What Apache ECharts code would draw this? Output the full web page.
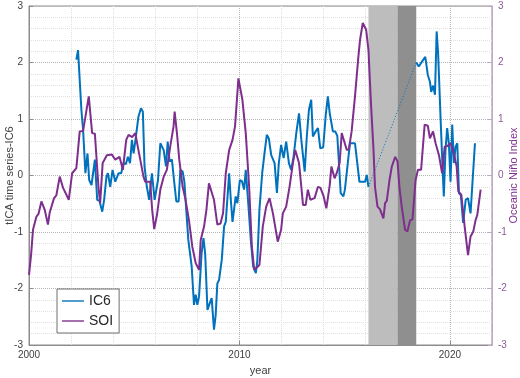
<!DOCTYPE html>
<html>
<head>
<meta charset="utf-8">
<script src="https://cdn.jsdelivr.net/npm/echarts@6/dist/echarts.min.js"></script>
<style>
    html, body { margin: 0; padding: 0; background: #fff; }
    #chart { width: 520px; height: 378px; }
</style>
</head>
<body>
<div id="chart"></div>
<script>
// SOI (Oceanic Nino Index), [year, value]
const soiData = [
    [2000.0,-1.76],[2000.1,-1.4],[2000.19,-0.96],[2000.35,-0.73],[2000.45,-0.68],[2000.59,-0.46],
    [2000.75,-0.61],[2000.9,-0.87],[2000.98,-0.66],[2001.19,-0.40],[2001.3,-0.35],[2001.46,-0.02],
    [2001.62,-0.22],[2001.7,-0.20],[2001.89,-0.43],[2002.05,0.04],[2002.25,0.13],[2002.41,0.78],
    [2002.57,0.79],[2002.84,1.40],[2003.0,0.75],[2003.13,0.74],[2003.3,-0.2],[2003.38,-0.49],
    [2003.5,0.22],[2003.7,0.36],[2003.94,0.37],[2004.1,0.28],[2004.3,0.33],[2004.46,0.1],
    [2004.62,0.63],[2004.73,0.72],[2004.9,0.68],[2005.05,0.75],[2005.2,0.45],[2005.44,-0.02],
    [2005.52,-0.11],[2005.76,-0.11],[2005.85,-0.6],[2005.95,-0.95],[2006.08,-0.70],[2006.14,-0.7],
    [2006.24,-0.25],[2006.4,-0.02],[2006.55,0.1],[2006.71,0.51],[2006.87,0.87],[2006.92,1.13],
    [2007.03,0.75],[2007.14,0.28],[2007.3,-0.2],[2007.44,-0.43],[2007.6,-0.79],[2007.76,-1.26],
    [2007.92,-1.55],[2008.08,-1.67],[2008.16,-1.14],[2008.32,-0.9],[2008.43,-0.61],[2008.55,-0.14],
    [2008.79,-0.43],[2008.95,-0.87],[2009.1,-0.85],[2009.22,-0.67],[2009.35,0.04],[2009.51,0.45],
    [2009.67,0.63],[2009.79,0.87],[2009.95,1.72],[2010.14,1.34],[2010.3,0.75],[2010.46,-0.2],
    [2010.59,-1.26],[2010.7,-1.67],[2010.85,-1.62],[2010.95,-1.58],[2011.11,-0.9],[2011.27,-0.55],
    [2011.43,-0.4],[2011.59,-0.67],[2011.82,-1.17],[2011.98,-0.96],[2012.06,-0.67],[2012.22,-0.55],
    [2012.38,-0.2],[2012.54,0.22],[2012.65,0.45],[2012.83,0.22],[2012.94,-0.2],[2013.02,-0.52],
    [2013.15,-0.52],[2013.25,-0.25],[2013.37,-0.43],[2013.57,-0.4],[2013.73,-0.2],[2013.85,-0.22],
    [2014.0,-0.37],[2014.13,-0.58],[2014.29,-0.17],[2014.37,0.16],[2014.52,-0.05],[2014.62,0.04],
    [2014.76,0.22],[2014.86,0.75],[2014.95,0.72],[2015.1,0.45],[2015.2,0.47],[2015.33,0.78],
    [2015.49,1.40],[2015.65,2.10],[2015.73,2.40],[2015.86,2.70],[2016.02,2.58],[2016.13,2.22],
    [2016.24,1.34],[2016.37,0.45],[2016.44,-0.2],[2016.56,-0.55],[2016.68,-0.6],[2016.84,-0.76],
    [2016.92,-0.49],[2017.0,-0.45],[2017.13,-0.08],[2017.24,0.16],[2017.4,0.33],[2017.51,0.25],
    [2017.6,-0.2],[2017.71,-0.55],[2017.87,-0.96],[2017.98,-0.99],[2018.11,-0.79],[2018.22,-0.78],
    [2018.37,-0.08],[2018.48,0.1],[2018.63,0.1],[2018.8,0.9],[2018.95,0.88],[2019.05,0.66],
    [2019.2,0.78],[2019.32,0.57],[2019.48,0.36],[2019.63,0.04],[2019.75,0.51],[2019.88,0.52],
    [2020.03,0.57],[2020.19,0.39],[2020.32,0.16],[2020.4,-0.28],[2020.54,-0.34],[2020.7,-0.9],
    [2020.86,-1.41],[2020.98,-1.08],[2021.11,-0.99],[2021.22,-0.79],[2021.3,-0.7],[2021.46,-0.25]
];

// IC6 before the gap
const ic6Before = [
    [2002.25,2.05],[2002.33,2.22],[2002.49,1.16],[2002.57,0.81],[2002.68,0.04],[2002.78,0.39],
    [2002.86,-0.08],[2002.97,-0.17],[2003.13,0.28],[2003.24,-0.43],[2003.35,-0.45],[2003.48,-0.64],
    [2003.57,-0.43],[2003.68,-0.02],[2003.75,0.04],[2003.86,-0.2],[2003.97,0.1],[2004.1,-0.11],
    [2004.25,0.04],[2004.38,0.04],[2004.49,0.22],[2004.6,0.2],[2004.7,0.33],[2004.8,0.22],
    [2004.89,0.63],[2004.97,0.39],[2005.08,0.69],[2005.2,1.04],[2005.32,1.19],[2005.41,1.13],
    [2005.49,0.16],[2005.6,-0.2],[2005.71,-0.43],[2005.84,0.04],[2005.97,-0.43],[2006.13,-0.08],
    [2006.24,0.57],[2006.4,0.45],[2006.51,0.16],[2006.59,0.6],[2006.68,0.25],[2006.79,0.28],
    [2006.89,-0.08],[2007.0,-0.46],[2007.11,-0.46],[2007.19,0.1],[2007.3,0.07],[2007.38,-0.1],
    [2007.45,-0.49],[2007.57,-1.14],[2007.73,-1.61],[2007.84,-2.29],[2007.92,-2.11],[2008.0,-2.29],
    [2008.08,-2.14],[2008.2,-1.38],[2008.29,-1.11],[2008.37,-1.38],[2008.48,-2.38],[2008.59,-2.26],
    [2008.68,-2.17],[2008.79,-2.73],[2008.87,-2.47],[2008.95,-1.91],[2009.03,-1.85],[2009.16,-1.49],
    [2009.27,-0.9],[2009.35,-0.82],[2009.43,-0.82],[2009.51,0.04],[2009.59,-0.43],[2009.67,-0.82],
    [2009.75,-0.8],[2009.82,-0.37],[2009.9,-0.49],[2010.02,-0.08],[2010.12,-0.1],[2010.22,-0.25],
    [2010.3,0.1],[2010.43,-0.55],[2010.54,-1.14],[2010.65,-1.61],[2010.78,-1.73],[2010.85,-1.5],
    [2010.95,-0.6],[2011.08,0.04],[2011.19,0.39],[2011.3,0.72],[2011.4,0.65],[2011.51,0.36],
    [2011.67,0.22],[2011.78,-0.31],[2011.87,0.22],[2011.98,0.54],[2012.1,0.31],[2012.22,0.6],
    [2012.35,0.22],[2012.46,0.1],[2012.57,0.33],[2012.7,0.75],[2012.83,1.1],[2012.94,0.63],
    [2013.1,0.07],[2013.2,0.69],[2013.3,1.16],[2013.41,1.34],[2013.49,0.69],[2013.62,0.78],
    [2013.73,0.84],[2013.84,0.48],[2013.98,0.5],[2014.1,1.07],[2014.2,1.4],[2014.29,1.1],
    [2014.36,1.12],[2014.44,0.78],[2014.55,0.78],[2014.65,0.7],[2014.7,0.39],[2014.81,-0.31],
    [2014.94,-0.37],[2015.01,-0.25],[2015.18,0.33],[2015.25,0.57],[2015.49,0.57],[2015.7,-0.11],
    [2015.97,-0.11],[2016.05,0.01],[2016.13,-0.2]
];

// IC6 after the gap
const ic6After = [
    [2018.4,2.0],[2018.52,1.93],[2018.68,2.02],[2018.83,2.1],[2018.95,1.78],[2019.05,1.66],
    [2019.11,1.48],[2019.2,1.59],[2019.29,1.43],[2019.37,2.55],[2019.44,2.16],[2019.56,0.98],
    [2019.63,0.33],[2019.71,-0.37],[2019.79,0.45],[2019.87,0.84],[2019.95,0.57],[2020.03,-0.11],
    [2020.11,0.9],[2020.19,0.22],[2020.27,0.51],[2020.35,0.57],[2020.43,-0.31],[2020.52,-0.35],
    [2020.63,-0.84],[2020.75,-0.43],[2020.86,-0.4],[2020.98,-0.67],[2021.19,0.57]
];

// shaded periods (years)
const shadeLight = [2016.13, 2017.51];
const shadeDark = [2017.51, 2018.4];

const yTicks = [-3, -2, -1, 0, 1, 2, 3];

const fontFamily = '"Liberation Sans", Arial, sans-serif';
const blue = '#0072BD';
const purple = '#7E2F8E';

const chart = echarts.init(document.getElementById('chart'), null, { renderer: 'canvas' });

// thin dotted segment across the gap
const gapLine = [ic6Before[ic6Before.length - 1], ic6After[0]];

const yAxisBase = {
    type: 'value',
    min: yTicks[0],
    max: yTicks[yTicks.length - 1],
    interval: 1,
    nameLocation: 'middle',
    nameMoveOverlap: false,
    axisTick: { inside: true, length: 4 },
    minorTick: { show: false, splitNumber: 5 },
};

const option = {
    animation: false,
    backgroundColor: '#fff',
    grid: {
        left: 29,
        right: 28,
        top: 6,
        bottom: 33,
        containLabel: false,
        outerBoundsMode: 'none',
        show: true,
        borderColor: '#8c8c8c',
        borderWidth: 1,
    },
    legend: {
        left: 57,
        top: 289,
        orient: 'vertical',
        backgroundColor: '#fff',
        borderColor: '#6e6e6e',
        borderWidth: 1,
        padding: [5, 6, 5, 5],
        itemGap: 6,
        itemWidth: 22,
        itemHeight: 10,
        textStyle: { fontFamily: fontFamily, fontSize: 14, color: '#262626' },
        data: [
            { name: 'IC6', icon: 'path://M0,5 L24,5 L24,6.5 L0,6.5 Z', itemStyle: { color: blue } },
            { name: 'SOI', icon: 'path://M0,5 L24,5 L24,6.5 L0,6.5 Z', itemStyle: { color: purple } },
        ],
    },
    xAxis: {
        type: 'value',
        min: 2000,
        max: 2022,
        interval: 10,
        name: 'year',
        nameLocation: 'middle',
        nameMoveOverlap: false,
        nameGap: 20,
        nameTextStyle: { fontFamily: fontFamily, fontSize: 11, color: '#404040' },
        axisLine: { show: true, onZero: false, lineStyle: { color: '#8c8c8c' } },
        axisTick: { show: true, inside: true, length: 4, lineStyle: { color: '#8c8c8c' } },
        axisLabel: {
            fontFamily: fontFamily, fontSize: 10, color: '#404040', margin: 5,
            showMaxLabel: false,
            formatter: v => String(v),
        },
        splitLine: { show: true, lineStyle: { color: '#b4b4b4', type: 'dotted', width: 1 } },
        minorTick: { show: false, splitNumber: 5 },
        minorSplitLine: { show: true, lineStyle: { color: '#e0e0e0', type: 'dotted', width: 1 } },
    },
    yAxis: [
        Object.assign({}, yAxisBase, {
            position: 'left',
            name: 'tICA time series-IC6',
            nameGap: 14,
            nameTextStyle: { fontFamily: fontFamily, fontSize: 11, color: '#404040' },
            axisLine: { show: true, onZero: false, lineStyle: { color: '#8c8c8c' } },
            axisTick: { show: true, inside: true, length: 4, lineStyle: { color: '#8c8c8c' } },
            axisLabel: { fontFamily: fontFamily, fontSize: 10, color: '#404040', margin: 6 },
            splitLine: { show: true, lineStyle: { color: '#b4b4b4', type: 'dotted', width: 1 } },
            minorSplitLine: { show: true, lineStyle: { color: '#e0e0e0', type: 'dotted', width: 1 } },
        }),
        Object.assign({}, yAxisBase, {
            position: 'right',
            name: 'Oceanic Niño Index',
            nameGap: 16,
            nameRotate: 90,
            nameTextStyle: { fontFamily: fontFamily, fontSize: 11, color: purple },
            axisLine: { show: true, onZero: false, lineStyle: { color: '#c3a6cb' } },
            axisTick: { show: true, inside: true, length: 4, lineStyle: { color: '#c3a6cb' } },
            axisLabel: { fontFamily: fontFamily, fontSize: 10, color: '#8a5a95', margin: 6 },
            splitLine: { show: false },
        }),
    ],
    series: [
        {
            // shaded periods
            name: 'shade',
            type: 'line',
            data: [],
            silent: true,
            markArea: {
                silent: true,
                data: [
                    [{ xAxis: shadeLight[0], itemStyle: { color: '#bdbdbd' } }, { xAxis: shadeLight[1] }],
                    [{ xAxis: shadeDark[0], itemStyle: { color: '#8f8f8f' } }, { xAxis: shadeDark[1] }],
                ],
            },
        },
        {
            name: 'IC6',
            type: 'line',
            data: ic6Before,
            showSymbol: false,
            symbol: 'none',
            lineStyle: { color: blue, width: 2 },
            itemStyle: { color: blue },
            z: 3,
        },
        {
            name: 'IC6gap',
            type: 'line',
            data: gapLine,
            showSymbol: false,
            symbol: 'none',
            lineStyle: { color: blue, width: 1, type: [1, 2] },
            z: 3,
        },
        {
            name: 'IC6',
            type: 'line',
            data: ic6After,
            showSymbol: false,
            symbol: 'none',
            lineStyle: { color: blue, width: 2 },
            itemStyle: { color: blue },
            z: 3,
        },
        {
            name: 'SOI',
            type: 'line',
            yAxisIndex: 1,
            data: soiData,
            showSymbol: false,
            symbol: 'none',
            lineStyle: { color: purple, width: 2 },
            itemStyle: { color: purple },
            z: 4,
        },
    ],
};

chart.setOption(option);
</script>
</body>
</html>
